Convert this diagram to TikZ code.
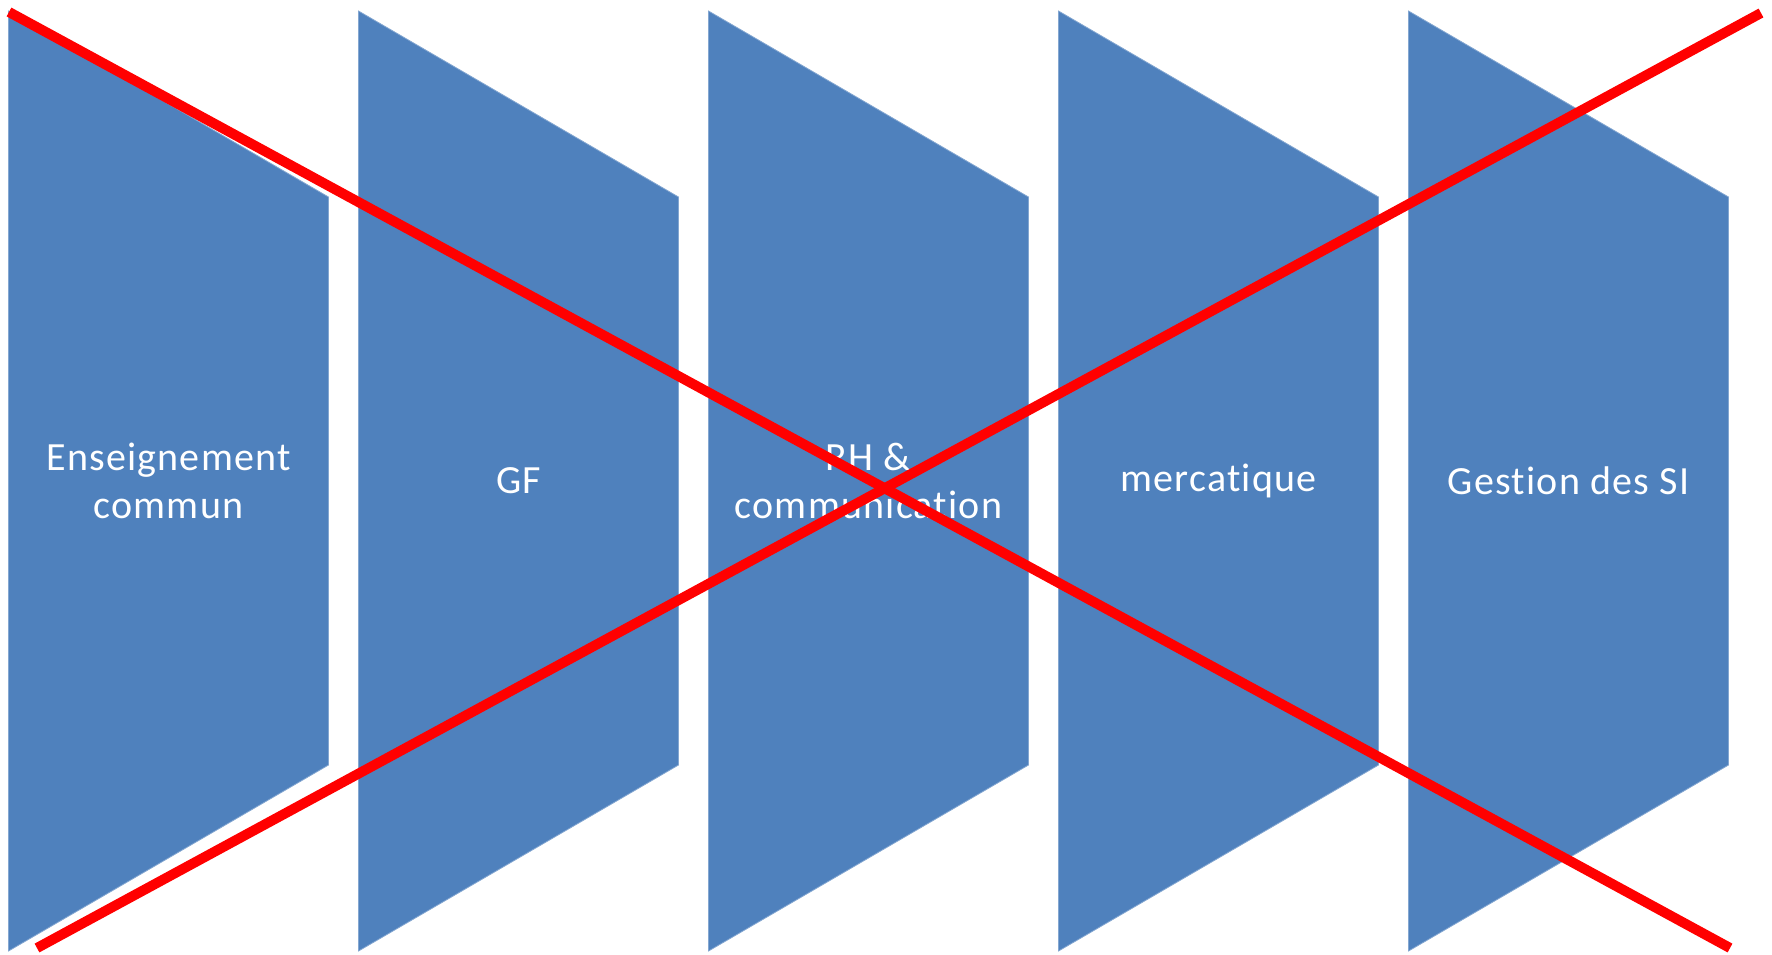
\documentclass[tikz,border=0pt]{standalone}
\usepackage{fontspec}
\setmainfont[Ligatures=NoCommon,LetterSpace=3]{Carlito}
\definecolor{shapeblue}{HTML}{4F81BD}
\definecolor{crossred}{HTML}{FF0000}
\begin{document}
\begin{tikzpicture}[x=0.5pt,y=-0.5pt,
  chevron/.style={fill=shapeblue,draw=shapeblue!70!white,line width=0.4pt},
  label/.style={text=white,align=center,font=\fontsize{20pt}{24pt}\selectfont,inner sep=0pt},
  crossline/.style={draw=crossred,line width=5pt}]
\useasboundingbox (0,0) rectangle (1772,954);
\foreach \i/\t in {0/{Enseignement\\commun},1/{GF},2/{RH \&\\communication},3/{mercatique},4/{Gestion des SI}}{
  \pgfmathsetmacro{\xl}{8.5+350*\i}
  \pgfmathsetmacro{\xr}{328.5+350*\i}
  \fill[chevron] (\xl,11) -- (\xr,197) -- (\xr,765) -- (\xl,951) -- cycle;
  \node[label] (t\i) at ({(\xl+\xr)/2},481) {\t};
}
\coordinate (a1) at (9,12);
\coordinate (a2) at (1730,948);
\coordinate (b1) at (1761,13);
\coordinate (b2) at (37,948);
\draw[crossline] (a1) -- (a2);
\draw[crossline] (b1) -- (b2);
\end{tikzpicture}
\end{document}
